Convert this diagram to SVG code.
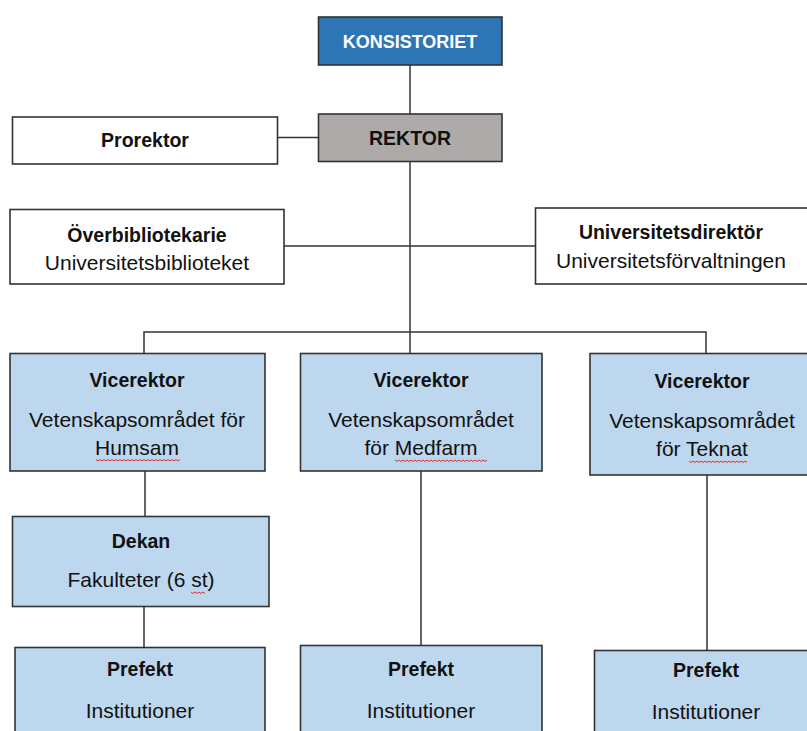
<svg xmlns="http://www.w3.org/2000/svg" width="807" height="731" viewBox="0 0 807 731">
<style>
.box{stroke:#333;stroke-width:1.6}
.w{fill:#fff}
.b{fill:#BDD7EE}
.t{font-family:"Liberation Sans",Arial,sans-serif;fill:#111;text-anchor:middle}
.bd{font-weight:bold;font-size:19.5px}
.rg{font-size:21px}
.ln{stroke:#333;stroke-width:1.5;fill:none}
.sq{stroke:#e0302a;stroke-width:1;fill:none}
</style>
<rect width="807" height="731" fill="#fff"/>
<g id="connectors">
<path class="ln" d="M410 65V114"/>
<path class="ln" d="M278 137.5H318"/>
<path class="ln" d="M410 162V353"/>
<path class="ln" d="M284 246H535"/>
<path class="ln" d="M144 353V332H706V353"/>
<path class="ln" d="M145 471V516"/>
<path class="ln" d="M144 607V647"/>
<path class="ln" d="M421 471V645"/>
<path class="ln" d="M707 475V650"/>
</g>
<g id="konsistoriet">
<rect class="box" x="318.5" y="17" width="183.5" height="48" fill="#2E75B6"/>
<text class="t" x="410" y="47.5" font-weight="bold" font-size="18px" style="fill:#fff">KONSISTORIET</text>
</g>
<g id="rektor">
<rect class="box" x="318.5" y="114" width="183.5" height="47.5" fill="#AEAAAA"/>
<text class="t bd" x="410" y="145">REKTOR</text>
</g>
<g id="prorektor">
<rect class="box w" x="12.5" y="117" width="265" height="47"/>
<text class="t bd" x="145" y="147">Prorektor</text>
</g>
<g id="overbibliotekarie">
<rect class="box w" x="10" y="209.5" width="274" height="74.5"/>
<text class="t bd" x="147" y="242">Överbibliotekarie</text>
<text class="t rg" x="147" y="270">Universitetsbiblioteket</text>
</g>
<g id="universitetsdirektor">
<rect class="box w" x="535.5" y="208" width="275" height="76"/>
<text class="t bd" x="671" y="239">Universitetsdirektör</text>
<text class="t rg" x="671" y="268">Universitetsförvaltningen</text>
</g>
<g id="vicerektor-humsam">
<rect class="box b" x="10" y="353.5" width="255" height="117.5"/>
<text class="t bd" x="137" y="387">Vicerektor</text>
<text class="t rg" x="137" y="427">Vetenskapsområdet för</text>
<text class="t rg" x="137" y="455">Humsam</text>
<path class="sq" d="M96 459.5l2 1.5 2-1.5 2 1.5 2-1.5 2 1.5 2-1.5 2 1.5 2-1.5 2 1.5 2-1.5 2 1.5 2-1.5 2 1.5 2-1.5 2 1.5 2-1.5 2 1.5 2-1.5 2 1.5 2-1.5 2 1.5 2-1.5 2 1.5 2-1.5 2 1.5 2-1.5 2 1.5 2-1.5 2 1.5 2-1.5 2 1.5 2-1.5 2 1.5 2-1.5 2 1.5 2-1.5 2 1.5 2-1.5 2 1.5 2-1.5 2 1.5 2-1.5"/>
</g>
<g id="vicerektor-medfarm">
<rect class="box b" x="300.5" y="353.5" width="241.5" height="117.5"/>
<text class="t bd" x="421" y="387">Vicerektor</text>
<text class="t rg" x="421" y="427">Vetenskapsområdet</text>
<text class="t rg" x="421" y="455">för Medfarm</text>
<path class="sq" d="M395 460l2 1.5 2-1.5 2 1.5 2-1.5 2 1.5 2-1.5 2 1.5 2-1.5 2 1.5 2-1.5 2 1.5 2-1.5 2 1.5 2-1.5 2 1.5 2-1.5 2 1.5 2-1.5 2 1.5 2-1.5 2 1.5 2-1.5 2 1.5 2-1.5 2 1.5 2-1.5 2 1.5 2-1.5 2 1.5 2-1.5 2 1.5 2-1.5 2 1.5 2-1.5 2 1.5 2-1.5 2 1.5 2-1.5 2 1.5 2-1.5 2 1.5 2-1.5 2 1.5 2-1.5 2 1.5 2-1.5"/>
</g>
<g id="vicerektor-teknat">
<rect class="box b" x="590" y="353.5" width="220" height="121.5"/>
<text class="t bd" x="702" y="388">Vicerektor</text>
<text class="t rg" x="702" y="428">Vetenskapsområdet</text>
<text class="t rg" x="702" y="456">för Teknat</text>
<path class="sq" d="M689 461l2 1.5 2-1.5 2 1.5 2-1.5 2 1.5 2-1.5 2 1.5 2-1.5 2 1.5 2-1.5 2 1.5 2-1.5 2 1.5 2-1.5 2 1.5 2-1.5 2 1.5 2-1.5 2 1.5 2-1.5 2 1.5 2-1.5 2 1.5 2-1.5 2 1.5 2-1.5 2 1.5 2-1.5 2 1.5"/>
</g>
<g id="dekan">
<rect class="box b" x="12.5" y="516.5" width="256.5" height="90"/>
<text class="t bd" x="141" y="548">Dekan</text>
<text class="t rg" x="141" y="587">Fakulteter (6 st)</text>
<path class="sq" d="M191 592l2 1.5 2-1.5 2 1.5 2-1.5 2 1.5 2-1.5 2 1.5"/>
</g>
<g id="prefekt-humsam">
<rect class="box b" x="15" y="647.5" width="250" height="90"/>
<text class="t bd" x="140" y="676">Prefekt</text>
<text class="t rg" x="140" y="718">Institutioner</text>
</g>
<g id="prefekt-medfarm">
<rect class="box b" x="300.5" y="645.5" width="241.5" height="92"/>
<text class="t bd" x="421" y="676">Prefekt</text>
<text class="t rg" x="421" y="718">Institutioner</text>
</g>
<g id="prefekt-teknat">
<rect class="box b" x="594.5" y="650.5" width="216" height="90"/>
<text class="t bd" x="706" y="677">Prefekt</text>
<text class="t rg" x="706" y="719">Institutioner</text>
</g>
</svg>
